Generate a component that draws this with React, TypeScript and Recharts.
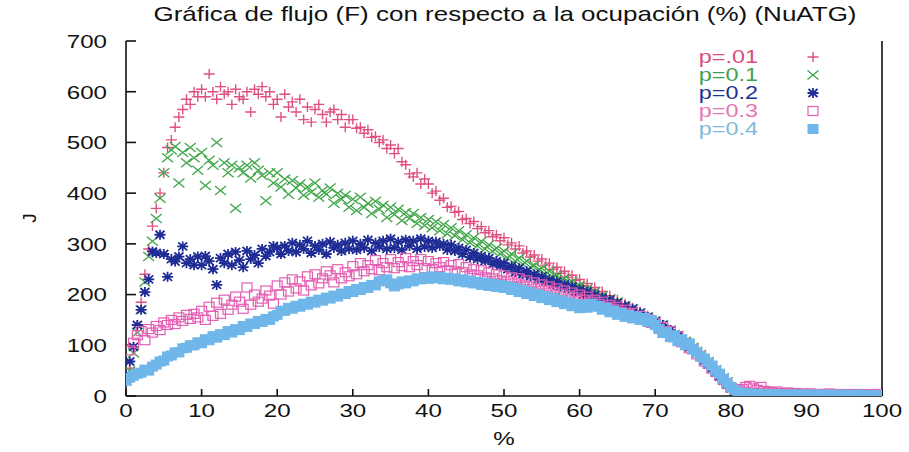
import React from 'react';
import { ScatterChart, Scatter, XAxis, YAxis } from 'recharts';

// Occupancy (%) sampled every half percent, 0 … 100
const occupancy = [
  0, 0.5, 1, 1.5, 2, 2.5, 3, 3.5, 4, 4.5, 5, 5.5, 6, 6.5, 7, 7.5, 8, 8.5, 9, 9.5,
  10, 10.5, 11, 11.5, 12, 12.5, 13, 13.5, 14, 14.5, 15, 15.5, 16, 16.5, 17, 17.5, 18, 18.5, 19, 19.5,
  20, 20.5, 21, 21.5, 22, 22.5, 23, 23.5, 24, 24.5, 25, 25.5, 26, 26.5, 27, 27.5, 28, 28.5, 29, 29.5,
  30, 30.5, 31, 31.5, 32, 32.5, 33, 33.5, 34, 34.5, 35, 35.5, 36, 36.5, 37, 37.5, 38, 38.5, 39, 39.5,
  40, 40.5, 41, 41.5, 42, 42.5, 43, 43.5, 44, 44.5, 45, 45.5, 46, 46.5, 47, 47.5, 48, 48.5, 49, 49.5,
  50, 50.5, 51, 51.5, 52, 52.5, 53, 53.5, 54, 54.5, 55, 55.5, 56, 56.5, 57, 57.5, 58, 58.5, 59, 59.5,
  60, 60.5, 61, 61.5, 62, 62.5, 63, 63.5, 64, 64.5, 65, 65.5, 66, 66.5, 67, 67.5, 68, 68.5, 69, 69.5,
  70, 70.5, 71, 71.5, 72, 72.5, 73, 73.5, 74, 74.5, 75, 75.5, 76, 76.5, 77, 77.5, 78, 78.5, 79, 79.5,
  80, 80.5, 81, 81.5, 82, 82.5, 83, 83.5, 84, 84.5, 85, 85.5, 86, 86.5, 87, 87.5, 88, 88.5, 89, 89.5,
  90, 90.5, 91, 91.5, 92, 92.5, 93, 93.5, 94, 94.5, 95, 95.5, 96, 96.5, 97, 97.5, 98, 98.5, 99, 99.5,
  100,
];

// Flow J for p = .01 (one row per ten percent of occupancy)
const flowP001 = [
  30, 55, 95, 140, 185, 240, 290, 335, 370, 400, 440, 490, 505, 530, 550, 565, 585, 575, 600, 590,
  605, 590, 635, 600, 585, 610, 595, 600, 575, 605, 590, 585, 600, 560, 605, 595, 610, 590, 600, 575,
  585, 550, 595, 570, 580, 560, 585, 545, 570, 540, 565, 575, 555, 540, 560, 565, 545, 555, 530, 545,
  545, 528, 530, 518, 525, 510, 512, 500, 505, 488, 495, 478, 488, 462, 456, 438, 432, 440, 418, 428,
  418, 400, 404, 386, 390, 372, 374, 362, 364, 348, 350, 340, 344, 330, 334, 322, 326, 314, 318, 306,
  312, 298, 302, 290, 296, 282, 286, 274, 278, 266, 270, 258, 262, 250, 254, 242, 246, 234, 238, 228,
  230, 218, 222, 210, 214, 202, 206, 194, 198, 186, 190, 178, 182, 170, 174, 162, 166, 154, 158, 148,
  150, 138, 140, 128, 130, 118, 120, 108, 108, 96, 96, 84, 82, 70, 66, 56, 50, 40, 34, 25,
  19, 15, 12, 10, 9, 8, 7, 7, 6, 6, 6, 5, 5, 6, 5, 4, 5, 4, 5, 4,
  4, 5, 4, 4, 3, 4, 4, 3, 4, 3, 4, 3, 3, 4, 3, 3, 3, 4, 3, 3,
  3,
];

// Flow J for p = 0.1
const flowP01 = [
  30, 50, 85, 125, 170, 225, 275, 305, 350, 390, 440, 470, 485, 492, 420, 480, 460, 490, 470, 445,
  480, 415, 465, 455, 500, 405, 460, 440, 455, 370, 450, 440, 455, 430, 460, 445, 435, 385, 440, 420,
  440, 412, 428, 398, 425, 410, 418, 396, 412, 402, 420, 392, 405, 398, 410, 380, 400, 388, 396, 372,
  388, 366, 392, 372, 380, 360, 384, 368, 376, 352, 372, 358, 368, 346, 362, 350, 360, 340, 352, 336,
  348, 332, 344, 326, 338, 320, 332, 316, 326, 308, 318, 302, 312, 296, 305, 290, 298, 285, 292, 280,
  286, 272, 280, 266, 272, 260, 266, 254, 258, 248, 252, 240, 246, 234, 238, 228, 232, 222, 226, 216,
  218, 208, 212, 200, 206, 194, 198, 188, 192, 182, 186, 176, 178, 170, 172, 162, 164, 156, 156, 148,
  148, 140, 140, 130, 130, 122, 120, 112, 108, 100, 96, 88, 82, 74, 68, 60, 52, 44, 36, 28,
  17, 12, 9, 7, 6, 5, 5, 4, 4, 4, 3, 3, 4, 3, 3, 2, 3, 3, 2, 3,
  2, 3, 2, 2, 3, 2, 2, 2, 3, 2, 2, 2, 2, 3, 2, 2, 2, 2, 2, 2,
  2,
];

// Flow J for p = 0.2
const flowP02 = [
  40, 68, 97, 140, 170, 205, 230, 285, 282, 318, 280, 235, 270, 265, 275, 295, 262, 270, 258, 275,
  258, 276, 266, 250, 219, 272, 262, 280, 258, 284, 268, 254, 286, 270, 278, 262, 290, 276, 284, 296,
  292, 280, 296, 286, 302, 284, 298, 290, 306, 282, 296, 288, 300, 280, 304, 292, 298, 286, 302, 290,
  306, 288, 300, 292, 308, 286, 302, 294, 306, 290, 310, 292, 304, 288, 308, 296, 306, 290, 310, 294,
  306, 292, 304, 296, 300, 288, 298, 286, 292, 280, 288, 274, 282, 270, 276, 266, 272, 260, 266, 256,
  262, 250, 256, 244, 252, 240, 246, 236, 240, 230, 236, 226, 230, 220, 226, 216, 220, 212, 216, 206,
  210, 200, 206, 196, 200, 190, 194, 186, 190, 180, 184, 174, 178, 168, 172, 162, 164, 156, 156, 148,
  148, 138, 140, 128, 130, 120, 118, 108, 106, 96, 94, 84, 78, 70, 62, 54, 46, 38, 30, 22,
  15, 10, 8, 6, 5, 4, 4, 5, 3, 4, 3, 3, 4, 2, 3, 3, 2, 3, 4, 2,
  3, 2, 3, 3, 2, 2, 3, 2, 2, 3, 2, 2, 3, 2, 2, 2, 3, 2, 2, 2,
  2,
];

// Flow J for p = 0.3
const flowP03 = [
  35, 90, 105, 120, 128, 110, 132, 125, 138, 130, 145, 140, 150, 142, 155, 148, 160, 152, 162, 155,
  168, 150, 176, 158, 184, 162, 190, 170, 180, 196, 186, 172, 214, 180, 200, 186, 192, 208, 198, 182,
  218, 200, 224, 206, 230, 212, 226, 208, 236, 218, 240, 222, 232, 246, 238, 224, 250, 232, 244, 236,
  256, 240, 262, 246, 258, 250, 268, 248, 262, 254, 270, 252, 264, 256, 272, 254, 266, 258, 270, 252,
  266, 250, 262, 254, 264, 248, 258, 246, 260, 244, 254, 240, 250, 238, 248, 234, 244, 232, 240, 228,
  238, 226, 234, 222, 232, 218, 228, 216, 224, 212, 220, 208, 216, 206, 212, 202, 208, 198, 204, 194,
  200, 190, 196, 186, 190, 182, 186, 176, 180, 172, 176, 166, 170, 162, 164, 156, 158, 150, 152, 144,
  144, 136, 136, 126, 128, 116, 118, 106, 104, 94, 92, 82, 78, 68, 64, 54, 48, 40, 32, 24,
  17, 13, 11, 14, 18, 20, 15, 12, 18, 10, 8, 7, 9, 6, 5, 7, 5, 6, 4, 5,
  4, 5, 3, 4, 4, 3, 5, 3, 4, 3, 3, 4, 3, 3, 4, 3, 3, 3, 4, 3,
  3,
];

// Flow J for p = 0.4
const flowP04 = [
  30, 36, 40, 44, 46, 52, 50, 58, 62, 68, 70, 78, 80, 86, 86, 94, 95, 100, 100, 106,
  104, 112, 110, 118, 115, 122, 120, 128, 125, 132, 130, 138, 136, 143, 142, 148, 146, 152, 150, 157,
  160, 168, 168, 174, 172, 178, 176, 182, 180, 186, 184, 190, 188, 194, 192, 198, 196, 202, 201, 207,
  205, 211, 209, 215, 213, 219, 218, 226, 228, 230, 222, 216, 220, 226, 222, 228, 226, 232, 230, 234,
  231, 236, 232, 235, 230, 233, 229, 232, 226, 230, 224, 228, 222, 225, 219, 223, 217, 221, 215, 219,
  213, 217, 209, 213, 205, 209, 201, 205, 197, 201, 193, 197, 189, 193, 185, 189, 181, 185, 177, 181,
  173, 180, 174, 182, 176, 178, 170, 174, 165, 169, 160, 164, 156, 160, 153, 157, 150, 154, 146, 150,
  140, 132, 124, 126, 116, 120, 108, 112, 100, 104, 92, 86, 78, 74, 66, 60, 50, 44, 34, 26,
  18, 12, 8, 6, 5, 5, 4, 4, 3, 4, 3, 3, 4, 3, 3, 3, 2, 3, 3, 2,
  3, 2, 3, 2, 3, 2, 2, 3, 2, 2, 3, 2, 2, 2, 3, 2, 2, 2, 2, 2,
  2,
];

const xTicks = [0, 10, 20, 30, 40, 50, 60, 70, 80, 90, 100];
const yTicks = [0, 100, 200, 300, 400, 500, 600, 700];
const seriesNames = ['p=.01', 'p=0.1', 'p=0.2', 'p=0.3', 'p=0.4'];

const FONT = '"Liberation Sans", Arial, Helvetica, sans-serif';
const TICK_FS = 19;
const STRETCH = 1.27; // gnuplot-style wide lettering
const INK = '#111';

const COLORS = {
  p001: '#e0507f',
  p01: '#3fa648',
  p02: '#1f2c96',
  p03: '#e35fb2',
  p04: '#6fb6ea',
};
const LEGEND_TEXT = ['#dc4a7a', '#3f9f55', '#22318f', '#e477b4', '#7cbad8'];

type Pt = { cx?: number; cy?: number };

const plusMark = (color: string) => (p: Pt) => {
  const { cx, cy } = p;
  if (cx == null || cy == null) return <g />;
  return (
    <path
      d={`M${cx - 5.5} ${cy}H${cx + 5.5}M${cx} ${cy - 5}V${cy + 5}`}
      stroke={color}
      strokeWidth={1.4}
      fill="none"
    />
  );
};

const crossMark = (color: string) => (p: Pt) => {
  const { cx, cy } = p;
  if (cx == null || cy == null) return <g />;
  return (
    <path
      d={`M${cx - 5.5} ${cy - 4.5}L${cx + 5.5} ${cy + 4.5}M${cx - 5.5} ${cy + 4.5}L${cx + 5.5} ${cy - 4.5}`}
      stroke={color}
      strokeWidth={1.3}
      fill="none"
    />
  );
};

const starMark = (color: string) => (p: Pt) => {
  const { cx, cy } = p;
  if (cx == null || cy == null) return <g />;
  return (
    <path
      d={`M${cx - 5.5} ${cy}H${cx + 5.5}M${cx} ${cy - 5}V${cy + 5}M${cx - 4.5} ${cy - 4}L${cx + 4.5} ${cy + 4}M${cx - 4.5} ${cy + 4}L${cx + 4.5} ${cy - 4}`}
      stroke={color}
      strokeWidth={1.8}
      fill="none"
    />
  );
};

const openSquare = (color: string) => (p: Pt) => {
  const { cx, cy } = p;
  if (cx == null || cy == null) return <g />;
  return <rect x={cx - 5} y={cy - 4.5} width={10} height={9} fill="none" stroke={color} strokeWidth={1.2} />;
};

const filledSquare = (color: string) => (p: Pt) => {
  const { cx, cy } = p;
  if (cx == null || cy == null) return <g />;
  return <rect x={cx - 5.5} y={cy - 5} width={11} height={10} fill={color} />;
};

const toPoints = (ys: number[]) => occupancy.map((x, i) => ({ x, y: ys[i] }));

const series = [
  { name: seriesNames[0], data: toPoints(flowP001), shape: plusMark(COLORS.p001) },
  { name: seriesNames[1], data: toPoints(flowP01), shape: crossMark(COLORS.p01) },
  { name: seriesNames[2], data: toPoints(flowP02), shape: starMark(COLORS.p02) },
  { name: seriesNames[3], data: toPoints(flowP03), shape: openSquare(COLORS.p03) },
  { name: seriesNames[4], data: toPoints(flowP04), shape: filledSquare(COLORS.p04) },
];

const BottomTick = (props: any) => {
  const { x, y, payload } = props;
  return (
    <g transform={`translate(${x},${y})`}>
      <text transform={`scale(${STRETCH},1)`} textAnchor="middle" dy="0.72em" fontSize={TICK_FS} fontFamily={FONT} fill={INK}>
        {payload.value}
      </text>
    </g>
  );
};

const LeftTick = (props: any) => {
  const { x, y, payload } = props;
  return (
    <g transform={`translate(${x},${y})`}>
      <text transform={`scale(${STRETCH},1)`} textAnchor="end" dy="0.36em" fontSize={TICK_FS} fontFamily={FONT} fill={INK}>
        {payload.value}
      </text>
    </g>
  );
};

const axisStroke = { stroke: INK, strokeWidth: 1.6 };

export default function App() {
  return (
    <div style={{ position: 'absolute', left: 0, top: 0, width: 909, height: 452, background: '#fff' }}>
      <ScatterChart width={909} height={452} margin={{ top: 41, right: 0, bottom: 0, left: 0 }}>
        <XAxis
          xAxisId="b"
          type="number"
          dataKey="x"
          domain={[0, 100]}
          ticks={xTicks}
          interval={0}
          allowDataOverflow
          height={56}
          tickSize={-7}
          tickMargin={14}
          axisLine={axisStroke}
          tickLine={axisStroke}
          tick={<BottomTick />}
        />
        <XAxis
          xAxisId="t"
          orientation="top"
          type="number"
          domain={[0, 100]}
          ticks={xTicks}
          interval={0}
          allowDataOverflow
          height={0}
          tickSize={-7}
          axisLine={axisStroke}
          tickLine={axisStroke}
          tick={false}
        />
        <YAxis
          yAxisId="l"
          type="number"
          dataKey="y"
          domain={[0, 700]}
          ticks={yTicks}
          interval={0}
          allowDataOverflow
          width={126}
          tickSize={-10}
          tickMargin={29}
          axisLine={axisStroke}
          tickLine={axisStroke}
          tick={<LeftTick />}
        />
        <YAxis
          yAxisId="r"
          orientation="right"
          type="number"
          domain={[0, 700]}
          ticks={yTicks}
          interval={0}
          allowDataOverflow
          width={27}
          tickSize={-10}
          axisLine={axisStroke}
          tickLine={axisStroke}
          tick={false}
        />
        {series.map((s) => (
          <Scatter
            key={s.name}
            name={s.name}
            data={s.data}
            xAxisId="b"
            yAxisId="l"
            shape={s.shape}
            isAnimationActive={false}
          />
        ))}
      </ScatterChart>

      <svg width={909} height={452} style={{ position: 'absolute', left: 0, top: 0, pointerEvents: 'none' }}>
        <g transform="translate(505,21)">
          <text transform="scale(1.3,1)" textAnchor="middle" fontSize={20} fontFamily={FONT} fill={INK}>
            Gráfica de flujo (F) con respecto a la ocupación (%) (NuATG)
          </text>
        </g>
        <g transform="translate(504,445)">
          <text transform={`scale(${STRETCH},1)`} textAnchor="middle" fontSize={TICK_FS} fontFamily={FONT} fill={INK}>
            %
          </text>
        </g>
        <g transform="translate(36,218) rotate(-90)">
          <text textAnchor="middle" fontSize={TICK_FS} fontFamily={FONT} fill={INK}>
            J
          </text>
        </g>
        {series.map((s, i) => {
          const cy = 57 + i * 18;
          const Mark = s.shape;
          return (
            <g key={s.name}>
              <g transform={`translate(758,${cy})`}>
                <text transform="scale(1.3,1)" textAnchor="end" dy="0.36em" fontSize={18} fontFamily={FONT} fill={LEGEND_TEXT[i]}>
                  {s.name}
                </text>
              </g>
              <Mark cx={813} cy={cy} />
            </g>
          );
        })}
      </svg>
    </div>
  );
}
